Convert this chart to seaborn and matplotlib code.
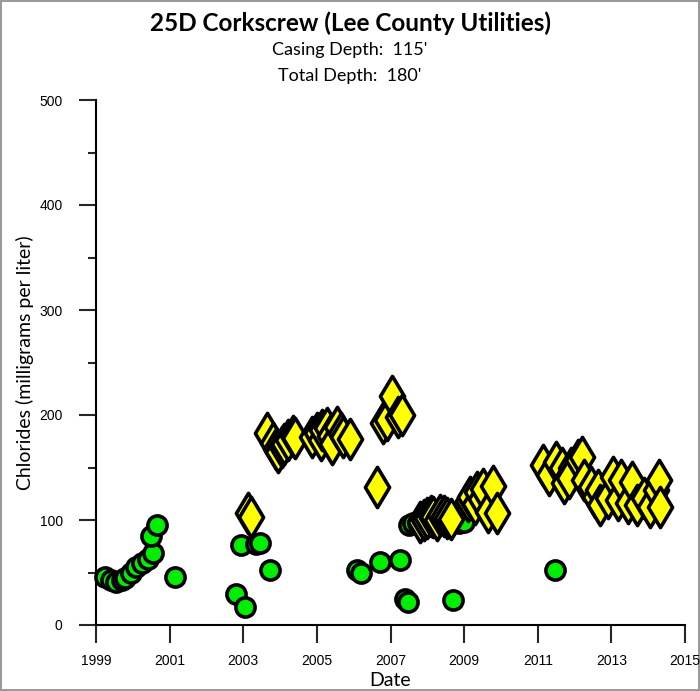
"""Chloride concentrations at well 25D Corkscrew (Lee County Utilities)"""

import numpy as np
import pandas as pd
import matplotlib

matplotlib.use("Agg")
import matplotlib.pyplot as plt
import matplotlib.ticker as mtick
import seaborn as sns

##### data ####################################################################
circle_years = [
    1999.25, 1999.4, 1999.55, 1999.7, 1999.8, 1999.95, 2000.1, 2000.25, 2000.4,
    2000.55, 2000.5, 2000.65, 2001.15, 2002.8, 2002.95, 2003.05, 2003.35, 2003.45,
    2003.73, 2006.1, 2006.2, 2006.72, 2007.26, 2007.4, 2007.48, 2007.5, 2007.62,
    2007.75, 2007.9, 2008.6, 2008.7, 2008.85, 2009.0, 2011.47,
]
circle_values = [
    46, 43, 41, 43, 45, 50, 55, 59, 63,
    69, 85, 95, 46, 30, 76, 17, 77, 78,
    52, 52, 50, 60, 62, 25, 22, 95, 97,
    97, 98, 96, 24, 97, 98, 52,
]

diamond_years = [
    2003.13, 2003.2,
    2003.65, 2003.8, 2003.9, 2003.95, 2004.05, 2004.1, 2004.22, 2004.35, 2004.41,
    2004.87, 2005.0, 2005.1, 2005.14, 2005.28, 2005.35, 2005.41, 2005.55, 2005.65,
    2005.71, 2005.9,
    2006.64, 2006.8, 2006.9, 2007.04, 2007.2, 2007.3,
    2007.8, 2007.9, 2008.0, 2008.1, 2008.16, 2008.25, 2008.35, 2008.45, 2008.54,
    2008.65,
    2009.1, 2009.16, 2009.3, 2009.35, 2009.45, 2009.52, 2009.65, 2009.79, 2009.9,
    2011.15, 2011.3, 2011.5, 2011.65, 2011.7, 2011.9, 2011.85, 2012.1, 2012.2,
    2012.25, 2012.45, 2012.55, 2012.63, 2012.7, 2012.9, 2013.05, 2013.18, 2013.27,
    2013.45, 2013.55, 2013.7, 2013.88, 2014.05, 2014.2, 2014.3, 2014.32,
]
diamond_values = [
    107, 103,
    183, 173, 168, 165, 170, 172, 176, 180, 178,
    179, 183, 176, 186, 188, 180, 172, 189, 183,
    179, 177,
    131, 192, 195, 218, 198, 200,
    98, 100, 102, 104, 103, 100, 105, 104, 102,
    101,
    118, 122, 115, 127, 120, 130, 108, 132, 107,
    152, 143, 155, 150, 135, 150, 140, 157, 160,
    138, 131, 122, 129, 114, 121, 141, 119, 138,
    116, 136, 114, 121, 112, 129, 138, 112,
]

x_ticks = [1999, 2001, 2003, 2005, 2007, 2009, 2011, 2013, 2015]
y_ticks = [0, 100, 200, 300, 400, 500]

title = "25D Corkscrew (Lee County Utilities)"
subtitle_1 = "Casing Depth:  115'"
subtitle_2 = "Total Depth:  180'"

circles = pd.DataFrame({"year": circle_years, "chloride": circle_values})
diamonds = pd.DataFrame({"year": diamond_years, "chloride": diamond_values})

##### plot ####################################################################
sns.set_style("ticks")
plt.rcParams["font.family"] = ["Liberation Sans", "DejaVu Sans"]

fig = plt.figure(figsize=(7.0, 6.91), dpi=100)
fig.patch.set_edgecolor("#9a9a9a")
fig.patch.set_linewidth(1.5)
ax = fig.add_axes([96 / 700, 1 - 625 / 691, 589 / 700, 525 / 691])

sns.scatterplot(
    data=circles,
    x="year",
    y="chloride",
    marker="o",
    s=190,
    color="#00ee00",
    edgecolor="black",
    linewidth=2.6,
    ax=ax,
    zorder=3,
    clip_on=False,
)
sns.scatterplot(
    data=diamonds,
    x="year",
    y="chloride",
    marker="d",
    s=420,
    color="#ffff00",
    edgecolor="black",
    linewidth=2.6,
    ax=ax,
    zorder=4,
    clip_on=False,
)

ax.set_xlim(1999, 2015)
ax.set_ylim(0, 500)
ax.set_xticks(x_ticks)
ax.set_yticks(y_ticks)
ax.yaxis.set_minor_locator(mtick.MultipleLocator(50))
sns.despine(ax=ax)
for sp in ["left", "bottom"]:
    ax.spines[sp].set_linewidth(1.5)
    ax.spines[sp].set_color("black")
ax.tick_params(axis="x", which="major", direction="out", length=13, width=1.5,
               labelsize=10, pad=8, labelcolor="black")
ax.tick_params(axis="y", which="major", direction="out", length=12, width=1.5,
               labelsize=10, pad=12, labelcolor="black")
ax.tick_params(axis="y", which="minor", direction="out", length=6, width=1.5)

label_font = ["Lato", "DejaVu Sans"]
ax.set_xlabel("Date", fontsize=14, family=label_font, labelpad=3,
              color="black")
ax.set_ylabel("Chlorides (milligrams per liter)", fontsize=14,
              family=label_font, labelpad=4, color="black")

fig.text(0.5, 1 - 23 / 691, title, ha="center", va="center", fontsize=17.5,
         fontweight="bold", family=label_font, color="black")
fig.text(0.5, 1 - 50 / 691, subtitle_1, ha="center", va="center",
         fontsize=13, family=label_font, color="black")
fig.text(0.5, 1 - 76 / 691, subtitle_2, ha="center", va="center",
         fontsize=13, family=label_font, color="black")

fig.savefig("out.png", dpi=100, edgecolor=fig.get_edgecolor())
plt.close()
